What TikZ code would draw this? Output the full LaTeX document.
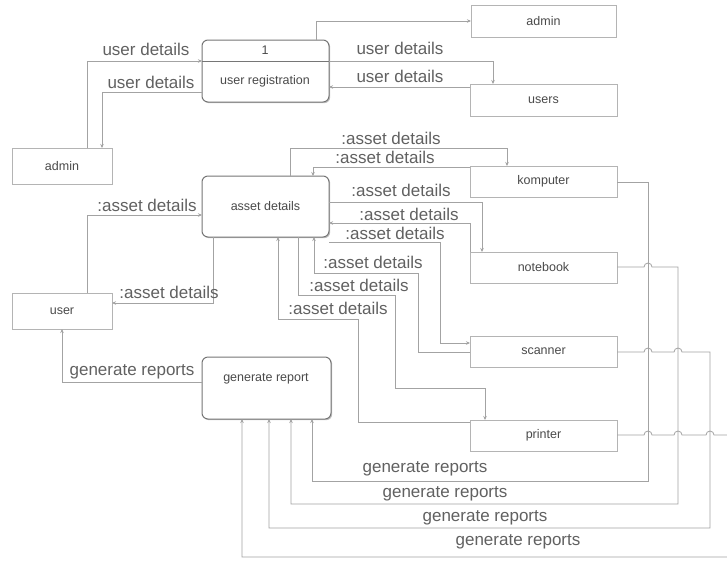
\documentclass[tikz,border=0pt]{standalone}
\usepackage{fontspec}
\setmainfont{Liberation Sans}
\usetikzlibrary{calc,arrows.meta,shadows}
\definecolor{wire}{HTML}{A3A3A3}
\definecolor{labelgray}{HTML}{616161}
\definecolor{boxline}{HTML}{B4B4B4}
\definecolor{procline}{HTML}{767676}
\definecolor{txt}{HTML}{4A4A4A}
\tikzset{
  entity/.style={draw=boxline, line width=0.8pt, anchor=north west, inner sep=0pt,
    outer sep=0pt, font=\fontsize{12.5}{14}\selectfont, text=txt},
  process/.style={draw=procline, line width=1pt, rounded corners=6pt, anchor=north west,
    inner sep=0pt, outer sep=0pt, font=\fontsize{12.5}{14}\selectfont, text=txt, fill=white,
    drop shadow={shadow xshift=1.2pt, shadow yshift=-1.2pt, fill=gray!60, opacity=0.8}},
  caption/.style={font=\fontsize{12.5}{14}\selectfont, text=txt, inner sep=0pt},
  flow/.style={draw=wire, line width=0.8pt, -{Stealth[length=4pt,width=3.5pt]}},
  flowlabel/.style={font=\fontsize{17}{19}\selectfont, text=labelgray, inner sep=0pt},
}
\begin{document}
\begin{tikzpicture}[x=1pt,y=-1pt]
\useasboundingbox (0,0) rectangle (727,560);
\clip (0,0) rectangle (727,560);
\fill[white] (0,0) rectangle (727,560);

% external entities
\node[entity, minimum width=145pt, minimum height=32pt] (adm) at (471,5) {admin};
\node[entity, minimum width=147pt, minimum height=32pt] (usr) at (470,84) {users};
\node[entity, minimum width=100pt, minimum height=36pt] (adl) at (12,148) {admin};
\node[entity, minimum width=147pt, minimum height=31pt] (kp) at (470,166) {komputer};
\node[entity, minimum width=147pt, minimum height=31pt] (nb) at (470,252) {notebook};
\node[entity, minimum width=100pt, minimum height=36pt] (us) at (12,293) {user};
\node[entity, minimum width=147pt, minimum height=31pt] (sc) at (470,336) {scanner};
\node[entity, minimum width=147pt, minimum height=31pt] (pr) at (470,420) {printer};

% processes
\node[process, minimum width=127pt, minimum height=62pt] (urp) at (202,40) {};
\draw[draw=procline, line width=0.9pt] ($(urp.north west)+(0,21)$) -- ($(urp.north east)+(0,21)$);
\node[caption] (urpnum) at (265,50) {1};
\node[caption] (urptxt) at (265,81) {user registration};
\node[process, minimum width=127pt, minimum height=61pt] (ad) at (202,176) {asset details};
\node[process, minimum width=129pt, minimum height=62pt] (gr) at (202,357) {};
\node[caption] (grtxt) at (266,379) {generate report};

% user registration flows
\draw[flow] ($(urp.north east)+(-13,0)$) |- (adm.west);
\draw[flow] ($(adl.north west)+(75,0)$) |- ($(urp.north west)+(0,21)$);
\draw[flow] ($(urp.north west)+(0,52)$) -| ($(adl.north west)+(90,0)$);
\draw[flow] ($(urp.north east)+(0,21)$) -| ($(usr.north west)+(23,0)$);
\draw[flow] ($(usr.north west)+(0,3)$) -- ($(urp.north east)+(0,47)$);
\node[flowlabel] (l1) at (146,49) {user details};
\node[flowlabel] (l2) at (151,82) {user details};
\node[flowlabel] (l3) at (400,48) {user details};
\node[flowlabel] (l4) at (400,76) {user details};

% asset details flows
\draw[flow] ($(ad.north west)+(88,0)$) -- (290,148) -| ($(kp.north west)+(37,0)$);
\draw[flow] ($(kp.north west)+(0,1)$) -| ($(ad.north west)+(111,0)$);
\draw[flow] ($(ad.north east)+(0,26)$) -| ($(nb.north west)+(12,0)$);
\draw[flow] (nb.north west) |- ($(ad.north east)+(0,47)$);
\draw[flow] ($(ad.south east)+(0,5)$) -- (440,242) |- ($(sc.north west)+(0,7)$);
\draw[flow] ($(sc.north west)+(0,16)$) -- (418,352) -- (418,273) -| ($(ad.south west)+(112,0)$);
\draw[flow] ($(ad.south west)+(96,0)$) -- (298,295) -- (395,295) -- (395,388) -| ($(pr.north west)+(15,0)$);
\draw[flow] ($(pr.north west)+(0,2)$) -- (358,422) -- (358,319) -| ($(ad.south west)+(76,0)$);
\node[flowlabel] (a1) at (391,138) {:asset details};
\node[flowlabel] (a2) at (385,157) {:asset details};
\node[flowlabel] (a3) at (401,190) {:asset details};
\node[flowlabel] (a4) at (409,214) {:asset details};
\node[flowlabel] (a5) at (395,233) {:asset details};
\node[flowlabel] (a6) at (373,262) {:asset details};
\node[flowlabel] (a7) at (359,285) {:asset details};
\node[flowlabel] (a8) at (338,308) {:asset details};

% user flows
\draw[flow] ($(us.north west)+(75,0)$) |- ($(ad.north west)+(0,39)$);
\draw[flow] ($(ad.south west)+(11,0)$) |- ($(us.north east)+(0,10)$);
\draw[flow] ($(gr.north west)+(0,25)$) -| ($(us.south west)+(50,0)$);
\node[flowlabel] (u1) at (147,205) {:asset details};
\node[flowlabel] (u2) at (169,292) {:asset details};
\node[flowlabel] (g0) at (132,372) {generate reports};

% report flows with line jumps
\draw[flow] ($(kp.north east)+(0,16)$) -- (648,182) -- (648,481) -| ($(gr.south west)+(110,0)$);
\draw[flow] ($(nb.north east)+(0,15)$) -- (644,267) arc[start angle=180,end angle=360,radius=4]
  -- (678,267) -- (678,504) -| ($(gr.south west)+(89,0)$);
\draw[flow] ($(sc.north east)+(0,16)$) -- (644,352) arc[start angle=180,end angle=360,radius=4]
  -- (674,352) arc[start angle=180,end angle=360,radius=4]
  -- (710,352) -- (710,528) -| ($(gr.south west)+(67,0)$);
\draw[flow] ($(pr.north east)+(0,15)$) -- (644,435) arc[start angle=180,end angle=360,radius=4]
  -- (674,435) arc[start angle=180,end angle=360,radius=4]
  -- (706,435) arc[start angle=180,end angle=360,radius=4]
  -- (740,435) -- (740,557) -| ($(gr.south west)+(40,0)$);
\node[flowlabel] (r1) at (425,469) {generate reports};
\node[flowlabel] (r2) at (445,494) {generate reports};
\node[flowlabel] (r3) at (485,518) {generate reports};
\node[flowlabel] (r4) at (518,542) {generate reports};
\end{tikzpicture}
\end{document}
